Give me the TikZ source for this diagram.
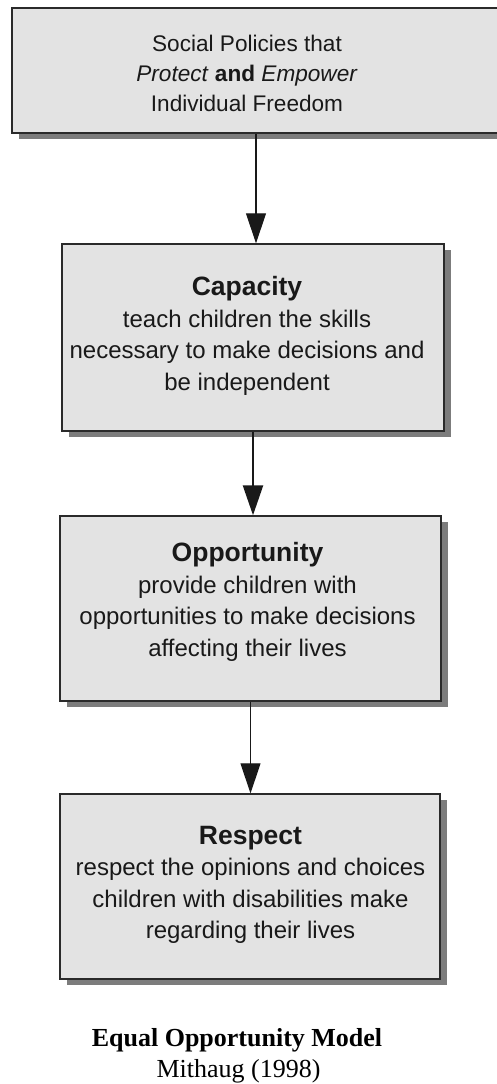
\documentclass[tikz,border=0pt]{standalone}
\usepackage{fontspec}
\setmainfont{Liberation Sans}
\newfontfamily\capfont{Liberation Serif}
\usetikzlibrary{arrows.meta,shadows}
\definecolor{boxfill}{HTML}{E3E3E3}
\definecolor{boxline}{HTML}{2A2A2A}
\definecolor{shadowc}{HTML}{7C7C7C}
\tikzset{
  stepbox/.style={draw=boxline, line width=1.4pt, fill=boxfill, inner sep=0pt,
    drop shadow={shadow xshift=6.5pt, shadow yshift=-6.5pt, fill=shadowc, opacity=1}},
  boxtext/.style={align=center, inner sep=0pt, text=black!90,
    font=\fontsize{24}{31.5}\selectfont},
  toptext/.style={align=center, inner sep=0pt, text=black!90,
    font=\fontsize{22.6}{30}\selectfont},
  thinarrow/.style={draw=black!90, line width=1.1pt, -{Triangle[width=20pt,length=30pt]}},
  thickarrow/.style={draw=black!90, line width=2.4pt, -{Triangle[width=20pt,length=30pt]}},
  captext/.style={inner sep=0pt, anchor=base, font=\capfont\fontsize{26}{30}\selectfont}
}
\begin{document}
\begin{tikzpicture}[x=1pt,y=1pt]
\useasboundingbox (0,0) rectangle (497,1084);
\fill[white] (0,0) rectangle (497,1084);
\begin{scope}
\clip (0,0) rectangle (497,1084);
\node[stepbox, minimum width=528pt, minimum height=125pt] (top) at (276,1013.5) {};
\end{scope}
\node[stepbox, minimum width=382pt, minimum height=187pt] (cap) at (253,746.5) {};
\node[stepbox, minimum width=381pt, minimum height=185pt] (opp) at (250.5,475.5) {};
\node[stepbox, minimum width=380pt, minimum height=185pt] (res) at (250,197.5) {};

\node[toptext] (toptxt) at (247,1011) {Social Policies that\\ \textit{Protect} \textbf{and} \textit{Empower}\\ Individual Freedom};
\node[boxtext] (captxt) at (247,748) {{\fontsize{26.5}{31.5}\selectfont\bfseries Capacity}\\ teach children the skills\\ necessary to make decisions and\\ be independent};
\node[boxtext] (opptxt) at (247.5,482) {{\fontsize{26.5}{31.5}\selectfont\bfseries Opportunity}\\ provide children with\\ opportunities to make decisions\\ affecting their lives};
\node[boxtext] (restxt) at (250.5,199) {{\fontsize{26.5}{31.5}\selectfont\bfseries Respect}\\ respect the opinions and choices\\ children with disabilities make\\ regarding their lives};

\draw[thinarrow] ([xshift=3pt]cap.north |- top.south) -- ([xshift=3pt]cap.north);
\draw[thickarrow] (cap.south) -- (opp.north -| cap.south);
\draw[thinarrow] (opp.south) -- (res.north -| opp.south);

\node[captext] (cap1) at (237,37) {\bfseries Equal Opportunity Model};
\node[captext] (cap2) at (238.5,6) {Mithaug (1998)};
\end{tikzpicture}
\end{document}
